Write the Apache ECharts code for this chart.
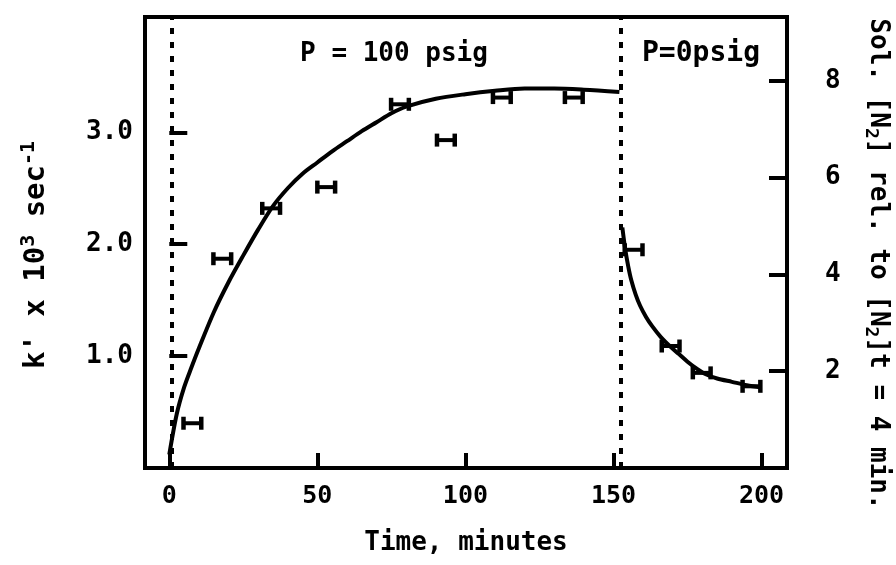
<!DOCTYPE html>
<html>
<head>
<meta charset="utf-8">
<script src="https://cdn.jsdelivr.net/npm/echarts@6/dist/echarts.min.js"></script>
<style>html,body{margin:0;padding:0;background:#fff;}#c{width:896px;height:565px;}</style>
</head>
<body>
<div id="c"></div>
<script>
// ---- data ----
const kTimes = [7.8, 17.9, 34.4, 53.0, 77.9, 93.4, 112.3, 136.6];
const kValues = [0.40, 1.87, 2.32, 2.51, 3.25, 2.93, 3.31, 3.31];
const solTimes = [156.8, 169.3, 179.8, 196.6];
const solValues = [1.95, 1.09, 0.85, 0.73];
const timeErr = 3;
const fitTimes = [0, 2.5, 5, 7.5, 10, 15, 20, 25, 30, 35, 40, 45, 50, 55, 60, 65, 70, 75, 80, 90, 100, 110, 120, 130, 140, 152];
const fitValues = [0.12, 0.48, 0.72, 0.90, 1.07, 1.39, 1.66, 1.90, 2.13, 2.34, 2.50, 2.63, 2.73, 2.83, 2.92, 3.01, 3.09, 3.17, 3.23, 3.30, 3.34, 3.37, 3.39, 3.39, 3.38, 3.36];
const decayTimes = [153, 154, 155, 156, 157.5, 159, 161, 163, 166, 169, 172, 175, 178, 181, 185, 190, 195, 200];
const decayValues = [2.15, 1.95, 1.80, 1.68, 1.55, 1.45, 1.35, 1.27, 1.17, 1.09, 1.02, 0.95, 0.89, 0.84, 0.80, 0.77, 0.74, 0.72];
const dividerTimes = [1, 152.5];
const xTicks = [0, 50, 100, 150, 200];
const leftTicks = [1, 2, 3];
const rightTicks = [2, 4, 6, 8];
const regionLabels = ['P = 100 psig', 'P=0psig'];

const FONT = "'DejaVu Sans Mono', monospace";
const zip = (a, b) => a.map((v, i) => [v, b[i]]);

function errRender(params, api) {
  const t = api.value(0), y = api.value(1), e = api.value(2);
  const pl = api.coord([t - e, y]);
  const pr = api.coord([t + e, y]);
  const st = { stroke: '#000', lineWidth: 4 };
  return {
    type: 'group',
    children: [
      { type: 'line', shape: { x1: pl[0], y1: pl[1], x2: pr[0], y2: pr[1] }, style: st },
      { type: 'line', shape: { x1: pl[0], y1: pl[1] - 6.5, x2: pl[0], y2: pl[1] + 6.5 }, style: { stroke: '#000', lineWidth: 4.5 } },
      { type: 'line', shape: { x1: pr[0], y1: pr[1] - 6.5, x2: pr[0], y2: pr[1] + 6.5 }, style: { stroke: '#000', lineWidth: 4.5 } }
    ]
  };
}

const chart = echarts.init(document.getElementById('c'), null, { renderer: 'canvas' });
chart.setOption({
  animation: false,
  backgroundColor: '#fff',
  grid: { left: 145, right: 109, top: 17, bottom: 97, show: true, borderColor: '#000', borderWidth: 4, backgroundColor: 'transparent' },
  xAxis: {
    type: 'value', min: -8.2, max: 208.6,
    name: 'Time, minutes', nameLocation: 'middle', nameGap: 62,
    nameTextStyle: { fontFamily: FONT, fontWeight: 'bold', fontSize: 26, color: '#000' },
    axisLine: { show: false },
    axisTick: { show: true, inside: true, length: 15, customValues: xTicks, lineStyle: { color: '#000', width: 4 } },
    axisLabel: { customValues: xTicks, margin: 16, fontFamily: FONT, fontWeight: 'bold', fontSize: 25, color: '#000' },
    splitLine: { show: false }
  },
  yAxis: [
    {
      type: 'value', min: 0, max: 4.03,
      axisLine: { show: false },
      axisTick: { show: true, inside: true, length: 18, customValues: leftTicks, lineStyle: { color: '#000', width: 4 } },
      axisLabel: { customValues: leftTicks, margin: 12, formatter: v => v.toFixed(1), fontFamily: FONT, fontWeight: 'bold', fontSize: 26, color: '#000' },
      splitLine: { show: false }
    },
    {
      type: 'value', min: 0, max: 9.32, position: 'right',
      axisLine: { show: false },
      axisTick: { show: true, inside: true, length: 18, customValues: rightTicks, lineStyle: { color: '#000', width: 4 } },
      axisLabel: { customValues: rightTicks, margin: 38, fontFamily: FONT, fontWeight: 'bold', fontSize: 26, color: '#000' },
      splitLine: { show: false }
    }
  ],
  series: [
    {
      type: 'line', data: zip(fitTimes, fitValues), smooth: 0.3,
      symbol: 'none', lineStyle: { color: '#000', width: 4 },
      markLine: {
        silent: true, symbol: 'none', label: { show: false },
        lineStyle: { color: '#000', width: 4, type: [6, 8] },
        data: dividerTimes.map(t => ({ xAxis: t }))
      }
    },
    {
      type: 'line', data: zip(decayTimes, decayValues), smooth: 0.3,
      symbol: 'none', lineStyle: { color: '#000', width: 4 }
    },
    {
      type: 'custom', renderItem: errRender,
      data: kTimes.map((t, i) => [t, kValues[i], timeErr])
    },
    {
      type: 'custom', renderItem: errRender,
      data: solTimes.map((t, i) => [t, solValues[i], timeErr])
    }
  ],
  graphic: [
    { type: 'text', x: 394, y: 54, style: { text: regionLabels[0], fontFamily: FONT, fontWeight: 'bold', fontSize: 26, fill: '#000', align: 'center', verticalAlign: 'middle' } },
    { type: 'text', x: 701, y: 54, style: { text: regionLabels[1], fontFamily: FONT, fontWeight: 'bold', fontSize: 28, fill: '#000', align: 'center', verticalAlign: 'middle' } },
    {
      type: 'text', x: 36, y: 255, rotation: Math.PI / 2,
      style: {
        text: "{m|k' x 10}{sup|3}{m| sec}{sup|-1}",
        align: 'center', verticalAlign: 'middle', fill: '#000',
        rich: {
          m: { fontFamily: FONT, fontWeight: 'bold', fontSize: 29, lineHeight: 34, fill: '#000' },
          sup: { fontFamily: FONT, fontWeight: 'bold', fontSize: 20, lineHeight: 20, verticalAlign: 'top', fill: '#000' }
        }
      }
    },
    {
      type: 'text', x: 878, y: 264, rotation: -Math.PI / 2,
      style: {
        text: '{m|Sol. [N}{sub|2}{m|] rel. to [N}{sub|2}{m|]t = 4 min.}',
        align: 'center', verticalAlign: 'middle', fill: '#000',
        rich: {
          m: { fontFamily: FONT, fontWeight: 'bold', fontSize: 26, lineHeight: 32, fill: '#000' },
          sub: { fontFamily: FONT, fontWeight: 'bold', fontSize: 18, lineHeight: 18, verticalAlign: 'bottom', fill: '#000' }
        }
      }
    }
  ]
});
</script>
</body>
</html>
